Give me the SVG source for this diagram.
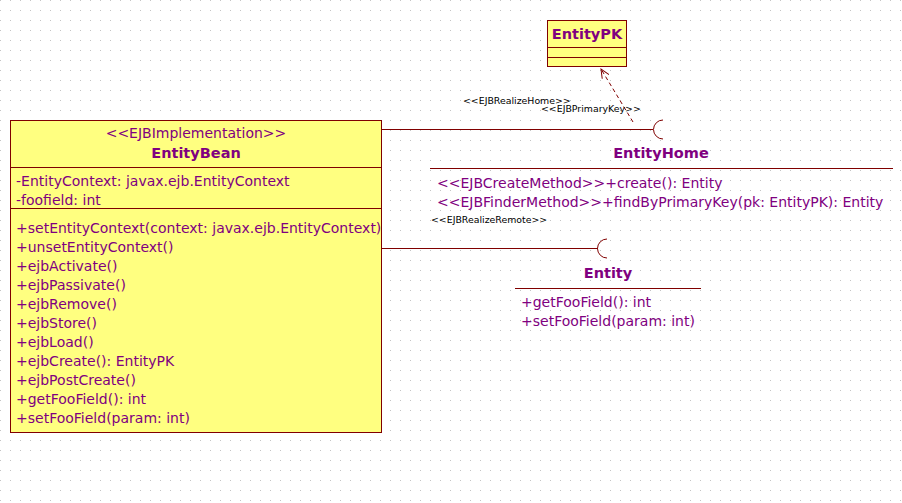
<svg xmlns="http://www.w3.org/2000/svg" width="902" height="503" viewBox="0 0 902 503">
<defs>
<pattern id="grid" x="0" y="0" width="10" height="10" patternUnits="userSpaceOnUse">
<rect x="0" y="0" width="1" height="1" fill="#c4c4c4"/>
</pattern>
<marker id="open" viewBox="0 0 10 10" refX="9" refY="5" markerWidth="10" markerHeight="10" orient="auto" markerUnits="userSpaceOnUse">
<path d="M0,1 L9,5 L0,9" fill="none" stroke="#800000" stroke-width="1"/>
</marker>
<style>
.box{fill:#ffff80;stroke:#800000;stroke-width:1}
.sep{stroke:#800000;stroke-width:1}
.t{font-family:"DejaVu Sans",Verdana,sans-serif;font-size:14px;fill:#800080}
.n{font-family:"DejaVu Sans",Verdana,sans-serif;font-size:14.5px;font-weight:bold;fill:#800080}
.s{font-family:"DejaVu Sans",Verdana,sans-serif;font-size:9.4px;fill:#000}
.c{fill:none;stroke:#800000;stroke-width:1}
</style>
</defs>
<rect width="902" height="503" fill="#ffffff"/>
<rect width="902" height="503" fill="url(#grid)"/>

<g id="connectors">
<line class="c" x1="382" y1="129.5" x2="653" y2="129.5"/>
<path class="c" d="M663,120 A9.5,9.5 0 0 0 663,139"/>
<line class="c" x1="382" y1="248.5" x2="598" y2="248.5"/>
<path class="c" d="M607,239 A9.5,9.5 0 0 0 607,258"/>
<line class="c" x1="633" y1="122" x2="601" y2="69" stroke-dasharray="4,3" marker-end="url(#open)"/>
<text class="s" x="463" y="104">&lt;&lt;EJBRealizeHome&gt;&gt;</text>
<text class="s" x="541" y="112">&lt;&lt;EJBPrimaryKey&gt;&gt;</text>
<text class="s" x="431" y="223">&lt;&lt;EJBRealizeRemote&gt;&gt;</text>
</g>

<g id="EntityPK">
<rect class="box" x="547.5" y="20.5" width="79" height="46"/>
<line class="sep" x1="547.5" y1="47.5" x2="626.5" y2="47.5"/>
<line class="sep" x1="547.5" y1="57.5" x2="626.5" y2="57.5"/>
<text class="n" x="587" y="39" text-anchor="middle">EntityPK</text>
</g>

<g id="EntityBean">
<rect class="box" x="10.5" y="120.5" width="371" height="312"/>
<line class="sep" x1="10.5" y1="167.5" x2="381.5" y2="167.5"/>
<line class="sep" x1="10.5" y1="208.5" x2="381.5" y2="208.5"/>
<text class="t" x="196" y="138" text-anchor="middle">&lt;&lt;EJBImplementation&gt;&gt;</text>
<text class="n" x="196" y="158" text-anchor="middle">EntityBean</text>
<text class="t" x="16" y="186">-EntityContext: javax.ejb.EntityContext</text>
<text class="t" x="16" y="205">-foofield: int</text>
<text class="t" x="16" y="233">+setEntityContext(context: javax.ejb.EntityContext)</text>
<text class="t" x="16" y="252">+unsetEntityContext()</text>
<text class="t" x="16" y="271">+ejbActivate()</text>
<text class="t" x="16" y="290">+ejbPassivate()</text>
<text class="t" x="16" y="309">+ejbRemove()</text>
<text class="t" x="16" y="328">+ejbStore()</text>
<text class="t" x="16" y="347">+ejbLoad()</text>
<text class="t" x="16" y="366">+ejbCreate(): EntityPK</text>
<text class="t" x="16" y="385">+ejbPostCreate()</text>
<text class="t" x="16" y="404">+getFooField(): int</text>
<text class="t" x="16" y="423">+setFooField(param: int)</text>
</g>

<g id="EntityHome">
<text class="n" x="661" y="158" text-anchor="middle">EntityHome</text>
<line class="sep" x1="430" y1="168.5" x2="893" y2="168.5"/>
<text class="t" x="437" y="188">&lt;&lt;EJBCreateMethod&gt;&gt;+create(): Entity</text>
<text class="t" x="437" y="207">&lt;&lt;EJBFinderMethod&gt;&gt;+findByPrimaryKey(pk: EntityPK): Entity</text>
</g>

<g id="Entity">
<text class="n" x="608" y="278" text-anchor="middle">Entity</text>
<line class="sep" x1="515" y1="288.5" x2="701" y2="288.5"/>
<text class="t" x="521" y="307">+getFooField(): int</text>
<text class="t" x="521" y="326">+setFooField(param: int)</text>
</g>
</svg>
